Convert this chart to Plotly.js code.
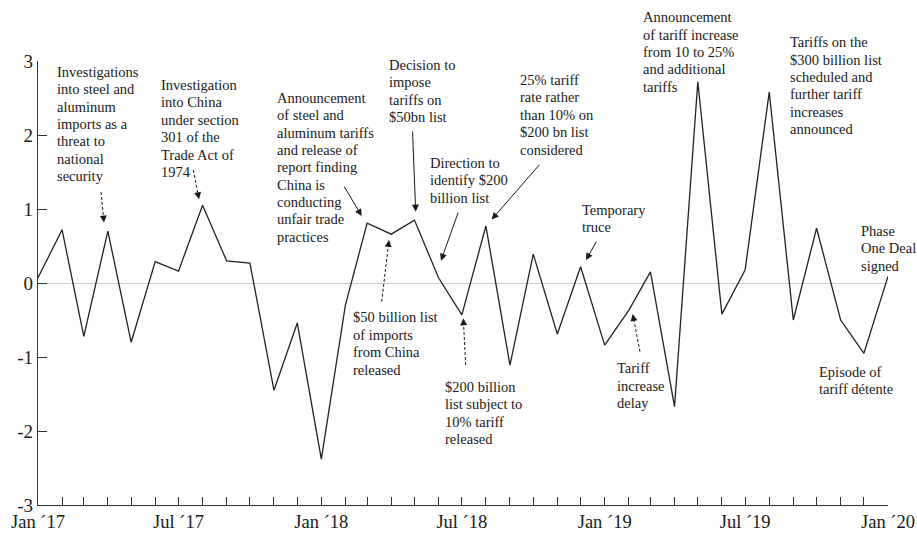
<!DOCTYPE html>
<html>
<head>
<meta charset="utf-8">
<script src="https://cdn.plot.ly/plotly-3.0.1.min.js"></script>
<style>html,body{margin:0;padding:0;background:#fff;}#chart{width:917px;height:534px;}</style>
</head>
<body>
<div id="chart"></div>
<script>
// ---- data ----
const months = [
  '2017-01-01','2017-02-01','2017-03-01','2017-04-01','2017-05-01','2017-06-01',
  '2017-07-01','2017-08-01','2017-09-01','2017-10-01','2017-11-01','2017-12-01',
  '2018-01-01','2018-02-01','2018-03-01','2018-04-01','2018-05-01','2018-06-01',
  '2018-07-01','2018-08-01','2018-09-01','2018-10-01','2018-11-01','2018-12-01',
  '2019-01-01','2019-02-01','2019-03-01','2019-04-01','2019-05-01','2019-06-01',
  '2019-07-01','2019-08-01','2019-09-01','2019-10-01','2019-11-01','2019-12-01',
  '2020-01-01'
];
const values = [
  0.07, 0.72, -0.72, 0.70, -0.80, 0.29, 0.16, 1.05, 0.30, 0.27, -1.45, -0.54,
  -2.38, -0.30, 0.81, 0.66, 0.85, 0.07, -0.43, 0.77, -1.11, 0.39, -0.69, 0.22,
  -0.84, -0.37, 0.15, -1.67, 2.72, -0.42, 0.18, 2.58, -0.50, 0.74, -0.50, -0.95,
  0.09
];
const yTickVals = [-3, -2, -1, 0, 1, 2, 3];
const yTickText = ['-3', '-2', '-1', '0', '1', '2', '3'];

// annotation texts (one entry per line)
const notes = [
  {lines: ['Investigations','into steel and','aluminum','imports as a','threat to','national','security'], px: 55, py: 71.7},
  {lines: ['Investigation','into China','under section','301 of the','Trade Act of','1974'], px: 159.3, py: 85},
  {lines: ['Announcement','of steel and','aluminum tariffs','and release of','report finding','China is','conducting','unfair trade','practices'], px: 275, py: 97.7},
  {lines: ['Decision to','impose','tariffs on','$50bn list'], px: 386.7, py: 65},
  {lines: ['Direction to','identify $200','billion list'], px: 427.7, py: 162.7},
  {lines: ['25% tariff','rate rather','than 10% on','$200 bn list','considered'], px: 518.3, py: 80},
  {lines: ['Announcement','of tariff increase','from 10 to 25%','and additional','tariffs'], px: 640.7, py: 17.3},
  {lines: ['Tariffs on the','$300 billion list','scheduled and','further tariff','increases','announced'], px: 788.3, py: 42.3},
  {lines: ['Temporary','truce'], px: 580, py: 210},
  {lines: ['Phase','One Deal','signed'], px: 859.3, py: 231},
  {lines: ['$50 billion list','of imports','from China','released'], px: 350.7, py: 317.5},
  {lines: ['$200 billion','list subject to','10% tariff','released'], px: 443.3, py: 386.7},
  {lines: ['Tariff','increase','delay'], px: 615, py: 368.3},
  {lines: ['Episode of','tariff d\u00e9tente'], px: 816.7, py: 372}
];
// arrows: tail -> tip (pixel positions), dashed or solid
const arrows = [
  {t: [101, 192], h: [104, 222.5], dash: true},
  {t: [193.3, 170], h: [199, 199.3], dash: true},
  {t: [343.3, 185], h: [361.7, 216], dash: false},
  {t: [412.5, 130], h: [415.7, 211.7], dash: false},
  {t: [458.7, 211], h: [441, 260.7], dash: false},
  {t: [540.7, 163.3], h: [491.7, 219.5], dash: false},
  {t: [597.3, 240], h: [586, 260], dash: false},
  {t: [381.7, 301.7], h: [389, 240], dash: true},
  {t: [465.7, 365], h: [463.3, 318.3], dash: true},
  {t: [640, 351.7], h: [632.7, 314], dash: true}
];

// ---- layout helpers ----
const M = {l: 38, r: 29, t: 61, b: 29};
const W = 917 - M.l - M.r, H = 534 - M.t - M.b;
const xp = px => (px - M.l) / W;
const yp = py => (534 - M.b - py) / H;
const FONT = '"Liberation Serif", "Times New Roman", serif';
const LINE_H = 17.4;
const INK = '#1a1a1a';

const annotations = [];
notes.forEach(n => {
  n.lines.forEach((s, i) => {
    annotations.push({
      xref: 'paper', yref: 'paper', x: xp(n.px), y: yp(n.py + i * LINE_H),
      xanchor: 'left', yanchor: 'middle', text: s, showarrow: false,
      font: {family: FONT, size: 14.5, color: INK}
    });
  });
});
const shapes = [];
arrows.forEach(a => {
  const dx = a.t[0] - a.h[0], dy = a.t[1] - a.h[1];
  const len = Math.hypot(dx, dy);
  if (a.dash) {
    const k = 7 / len;
    shapes.push({type: 'line', xref: 'paper', yref: 'paper',
      x0: xp(a.t[0]), y0: yp(a.t[1]), x1: xp(a.h[0] + dx * k), y1: yp(a.h[1] + dy * k),
      line: {color: INK, width: 1, dash: '3px,2px'}});
    annotations.push({xref: 'paper', yref: 'paper', x: xp(a.h[0]), y: yp(a.h[1]),
      ax: dx * 8 / len, ay: dy * 8 / len, text: '', showarrow: true,
      arrowhead: 2, arrowsize: 1.4, arrowwidth: 1, arrowcolor: INK, standoff: 0});
  } else {
    annotations.push({xref: 'paper', yref: 'paper', x: xp(a.h[0]), y: yp(a.h[1]),
      ax: dx, ay: dy, text: '', showarrow: true,
      arrowhead: 2, arrowsize: 1.4, arrowwidth: 1, arrowcolor: INK, standoff: 0});
  }
});

const trace = {
  x: months, y: values, type: 'scatter', mode: 'lines',
  line: {color: '#222', width: 1.3}, hoverinfo: 'skip'
};

const layout = {
  width: 917, height: 534, margin: M,
  paper_bgcolor: '#fff', plot_bgcolor: '#fff', showlegend: false,
  font: {family: FONT, color: INK},
  xaxis: {
    type: 'date', range: ['2017-01-01', '2020-01-01'],
    tick0: '2017-01-01', dtick: 'M6', tickformat: '%b \u00b4%y',
    ticks: 'inside', ticklen: 8, tickcolor: '#333', tickwidth: 1,
    minor: {dtick: 'M1', ticks: 'inside', ticklen: 8, tickcolor: '#333', tickwidth: 1, showgrid: false},
    showline: true, linecolor: '#333', linewidth: 1.2, showgrid: false, zeroline: false,
    tickfont: {family: FONT, size: 18.5, color: INK}
  },
  yaxis: {
    range: [-3, 3], tickvals: yTickVals, ticktext: yTickText,
    ticks: 'inside', ticklen: 9, tickcolor: '#333', tickwidth: 1,
    showline: true, linecolor: '#333', linewidth: 1.2, showgrid: false,
    zeroline: true, zerolinecolor: '#cfcfcf', zerolinewidth: 1,
    tickfont: {family: FONT, size: 19, color: INK}
  },
  annotations: annotations,
  shapes: shapes
};

Plotly.newPlot('chart', [trace], layout, {staticPlot: true, displayModeBar: false});
</script>
</body>
</html>
